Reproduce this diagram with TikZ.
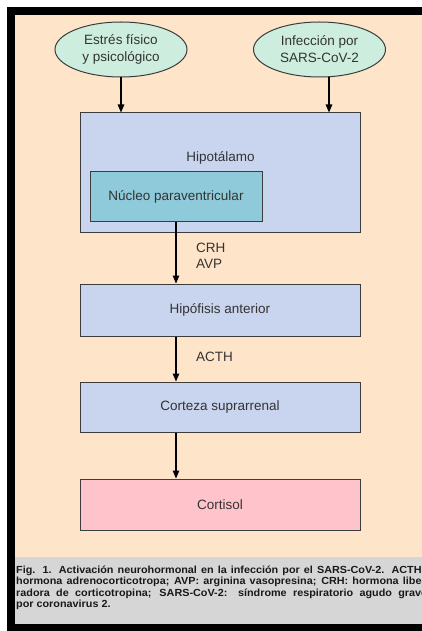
\documentclass[tikz,border=0pt]{standalone}
\usepackage{fontspec}
\setmainfont{Liberation Sans}
\newfontfamily\capfont[FakeStretch=1.05]{Liberation Sans}
\usetikzlibrary{arrows.meta,shapes.geometric}
\definecolor{peach}{HTML}{FEE4C8}
\definecolor{mint}{HTML}{CDEEDF}
\definecolor{lav}{HTML}{C9D4EE}
\definecolor{teal}{HTML}{8ECAD9}
\definecolor{pinkbox}{HTML}{FFC3CB}
\definecolor{capgray}{HTML}{D6D6D6}
\definecolor{bordergray}{HTML}{3C3C3C}
\definecolor{txt}{HTML}{333333}
\tikzset{
  boxnode/.style={draw=bordergray, line width=1pt, fill=lav, minimum width=280pt, inner sep=0pt, text=txt, font=\fontsize{13.5}{16}\selectfont},
  ellnode/.style={ellipse, draw=bordergray, line width=1pt, fill=mint, minimum width=132pt, minimum height=55pt, inner sep=0pt, align=center, text=txt, font=\fontsize{13.5}{17}\selectfont},
  lbl/.style={inner sep=0pt, text=txt, font=\fontsize{13.5}{16}\selectfont},
  arr/.style={-{Triangle[width=6.5pt,length=8pt]}, line width=1.2pt, black},
  capline/.style={inner sep=0pt, anchor=base west, text=black!90, font=\capfont\bfseries\fontsize{10.3}{11}\selectfont}
}
\begin{document}
\begin{tikzpicture}[x=1pt,y=-1pt]
\useasboundingbox (0,0) rectangle (422,631);
\fill[white] (0,0) rectangle (422,631);
\fill[black] (7,7) rectangle (422,631);
\fill[peach] (15,15) rectangle (422,557);
\fill[capgray] (15,557) rectangle (422,624);

\node[ellnode] (e1) at (121,49.5) {Estrés físico\\y psicológico};
\node[ellnode] (e2) at (319.5,49.5) {Infección por\\SARS-CoV-2};

\node[boxnode, minimum height=119pt] (hyp) at (220,172.5) {};
\node[lbl] (hyplbl) at (220.5,158) {Hipotálamo};
\node[boxnode, fill=teal, minimum width=172pt, minimum height=49pt] (nuc) at (176,196.5) {Núcleo paraventricular};
\node[boxnode, minimum height=52pt] (hipof) at (220,310) {Hipófisis anterior};
\node[boxnode, minimum height=50pt] (cort) at (220,407) {Corteza suprarrenal};
\node[boxnode, fill=pinkbox, minimum height=51pt] (cortisol) at (220,504.5) {Cortisol};

\draw[arr] (e1.south) -- (e1.south |- hyp.north);
\draw[arr] ([xshift=9.5pt]e2.south) -- ([xshift=9.5pt]e2.south |- hyp.north);
\draw[arr] (nuc.south) -- (nuc.south |- hipof.north);
\draw[arr] (nuc.south |- hipof.south) -- (nuc.south |- cort.north);
\draw[arr] (nuc.south |- cort.south) -- (nuc.south |- cortisol.north);

\node[lbl, anchor=west] (crh) at (196,248) {CRH};
\node[lbl, anchor=west] (avp) at (196,264) {AVP};
\node[lbl, anchor=west] (acth) at (196,357) {ACTH};

\begin{scope}
\clip (15,557) rectangle (422,624);
\node[capline] (c1) at (16,573) {\makebox[409pt][s]{Fig. 1. Activación neurohormonal en la infección por el SARS-CoV-2. ACTH:}};
\node[capline] (c2) at (16,584.5) {\makebox[409pt][s]{hormona adrenocorticotropa; AVP: arginina vasopresina; CRH: hormona libe-}};
\node[capline] (c3) at (16,596) {\makebox[411pt][s]{radora de corticotropina; SARS-CoV-2: síndrome respiratorio agudo grave}};
\node[capline] (c4) at (16,607.5) {por coronavirus 2.};
\end{scope}
\end{tikzpicture}
\end{document}
